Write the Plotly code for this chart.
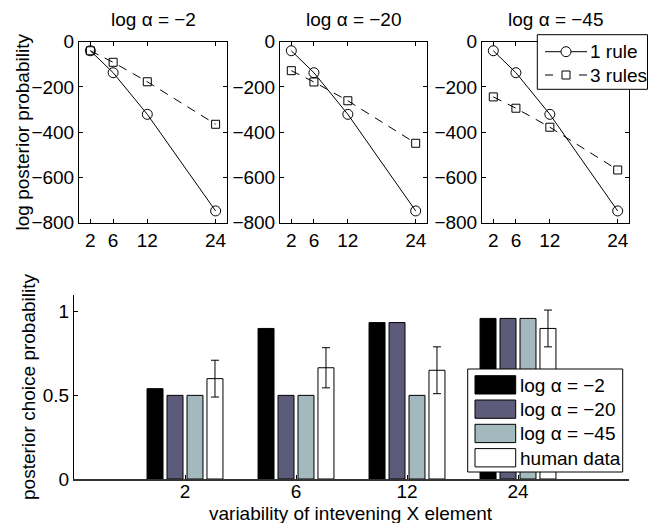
import plotly.graph_objects as go

# ---------------- data ----------------
x_vals = [2, 6, 12, 24]
one_rule = [-40, -137, -321, -748]
three_rules_a2 = [-40, -91, -177, -365]
three_rules_a20 = [-128, -178, -261, -449]
three_rules_a45 = [-244, -294, -378, -567]
panel_titles = ["log α = −2", "log α = −20", "log α = −45"]
y_ticks_top = [0, -200, -400, -600, -800]
y_ticktext_top = ["0", "−200", "−400", "−600", "−800"]
line_names = ["1 rule", "3 rules"]

categories = ["2", "6", "12", "24"]
p_a2 = [0.54, 0.90, 0.935, 0.96]
p_a20 = [0.50, 0.50, 0.935, 0.96]
p_a45 = [0.50, 0.50, 0.50, 0.96]
human = [0.60, 0.665, 0.65, 0.90]
human_err = [0.11, 0.12, 0.14, 0.11]
bar_names = ["log α = −2", "log α = −20", "log α = −45", "human data"]
bar_colors = ["#000000", "#5c5c7a", "#a3b9bd", "#ffffff"]

# ---------------- layout helpers ----------------
W, H = 648, 523
FONT = "Liberation Sans, Arial, Helvetica, sans-serif"
FS = 19


def fx(p):
    return p / W


def fy(p):
    return 1 - p / H


top_x_px = [(79, 227), (280, 427), (482, 629)]
top_y_px = (41.7, 222.7)
bot_x_px = (74, 629)
bot_y_px = (295, 479)

fig = go.Figure()

three_sets = [three_rules_a2, three_rules_a20, three_rules_a45]
for i in range(3):
    ax = "" if i == 0 else str(i + 1)
    fig.add_trace(go.Scatter(
        x=x_vals, y=one_rule, mode="lines+markers", name=line_names[0],
        line=dict(color="black", width=1),
        marker=dict(symbol="circle-open", size=10, color="black", line=dict(width=1)),
        xaxis="x" + ax, yaxis="y" + ax, showlegend=False,
    ))
    fig.add_trace(go.Scatter(
        x=x_vals, y=three_sets[i], mode="lines+markers", name=line_names[1],
        line=dict(color="black", width=1, dash="9px,7px"),
        marker=dict(symbol="square-open", size=8, color="black", line=dict(width=1)),
        xaxis="x" + ax, yaxis="y" + ax, showlegend=False,
    ))

bar_vals = [p_a2, p_a20, p_a45, human]
for j in range(4):
    fig.add_trace(go.Bar(
        x=categories, y=bar_vals[j], name=bar_names[j],
        marker=dict(color=bar_colors[j], line=dict(color="black", width=1)),
        error_y=(dict(type="data", array=human_err, color="black", thickness=1, width=4)
                 if j == 3 else None),
        xaxis="x4", yaxis="y4", showlegend=False,
    ))

axis_common = dict(
    showline=True, linecolor="black", linewidth=1, mirror="ticks",
    ticks="inside", ticklen=4, tickcolor="black", showgrid=False, zeroline=False,
    automargin=False,
    tickfont=dict(family=FONT, size=FS, color="black"),
)

layout = dict(
    template="none",
    width=W, height=H, margin=dict(l=0, r=0, t=0, b=0, pad=0),
    paper_bgcolor="white", plot_bgcolor="white",
    font=dict(family=FONT, size=FS, color="black"),
    barmode="group", bargap=0.28, bargroupgap=0.2,
    showlegend=False,
)

for i in range(3):
    ax = "" if i == 0 else str(i + 1)
    layout["xaxis" + ax] = dict(
        axis_common, domain=[fx(top_x_px[i][0]), fx(top_x_px[i][1])],
        range=[0, 26], tickvals=x_vals, ticktext=[str(v) for v in x_vals],
        anchor="y" + ax,
    )
    layout["yaxis" + ax] = dict(
        axis_common, domain=[fy(top_y_px[1]), fy(top_y_px[0])],
        range=[-800, 0], tickvals=y_ticks_top, ticktext=y_ticktext_top,
        anchor="x" + ax,
    )

layout["xaxis4"] = dict(
    axis_common, mirror=False, linewidth=2, linecolor="#333333",
    domain=[fx(bot_x_px[0]), fx(bot_x_px[1])],
    type="category", range=[-1, 4], anchor="y4", ticklabelstandoff=-6,
)
layout["yaxis4"] = dict(
    axis_common, mirror=False,
    domain=[fy(bot_y_px[1]), fy(bot_y_px[0])],
    range=[0, 1.1], tickvals=[0, 0.5, 1], ticktext=["0", "0.5", "1"],
    anchor="x4",
)


def txt(text, x, y, xanchor="center", angle=0):
    return dict(text=text, x=fx(x), y=fy(y), xref="paper", yref="paper",
                xanchor=xanchor, yanchor="middle", textangle=angle, showarrow=False,
                font=dict(family=FONT, size=FS, color="black"))


annotations = []
for i in range(3):
    cx = (top_x_px[i][0] + top_x_px[i][1]) / 2
    annotations.append(txt(panel_titles[i], cx, 19))
annotations.append(txt("log posterior probability", 21.5, 132, angle=-90))
annotations.append(txt("posterior choice probability", 28, 387, angle=-90))
annotations.append(txt("variability of intevening X element", 351, 513))

shapes = []
# top legend (drawn)
shapes.append(dict(type="rect", xref="paper", yref="paper",
                   x0=fx(537.3), x1=fx(647.5), y0=fy(89.3), y1=fy(34.7),
                   fillcolor="white", line=dict(color="black", width=1)))
r1, r2 = 51.7, 75.0
shapes.append(dict(type="line", xref="paper", yref="paper",
                   x0=fx(545), x1=fx(587), y0=fy(r1), y1=fy(r1),
                   line=dict(color="black", width=1)))
shapes.append(dict(type="circle", xref="paper", yref="paper",
                   x0=fx(561), x1=fx(571), y0=fy(r1 + 5), y1=fy(r1 - 5),
                   fillcolor="white", line=dict(color="black", width=1)))
for a, b in [(545, 553), (579, 587)]:
    shapes.append(dict(type="line", xref="paper", yref="paper",
                       x0=fx(a), x1=fx(b), y0=fy(r2), y1=fy(r2),
                       line=dict(color="black", width=1)))
shapes.append(dict(type="rect", xref="paper", yref="paper",
                   x0=fx(562), x1=fx(570), y0=fy(r2 + 4), y1=fy(r2 - 4),
                   fillcolor="white", line=dict(color="black", width=1)))
annotations.append(txt(line_names[0], 588, r1, xanchor="left"))
annotations.append(txt(line_names[1], 588, r2, xanchor="left"))

# bottom legend (drawn box with wide swatches)
shapes.append(dict(type="rect", xref="paper", yref="paper",
                   x0=fx(467.7), x1=fx(622.7), y0=fy(472), y1=fy(369),
                   fillcolor="white", line=dict(color="black", width=1)))
sw_top = [375.7, 400.0, 424.3, 448.6]
for j in range(4):
    shapes.append(dict(type="rect", xref="paper", yref="paper",
                       x0=fx(475), x1=fx(515.7), y0=fy(sw_top[j] + 18.3), y1=fy(sw_top[j]),
                       fillcolor=bar_colors[j], line=dict(color="black", width=1)))
    annotations.append(txt(bar_names[j], 518, sw_top[j] + 9.5, xanchor="left"))

layout["annotations"] = annotations
layout["shapes"] = shapes
fig.update_layout(**layout)

fig.write_html("out.html", config={"displayModeBar": False},
               post_script="document.body.style.margin='0';")
